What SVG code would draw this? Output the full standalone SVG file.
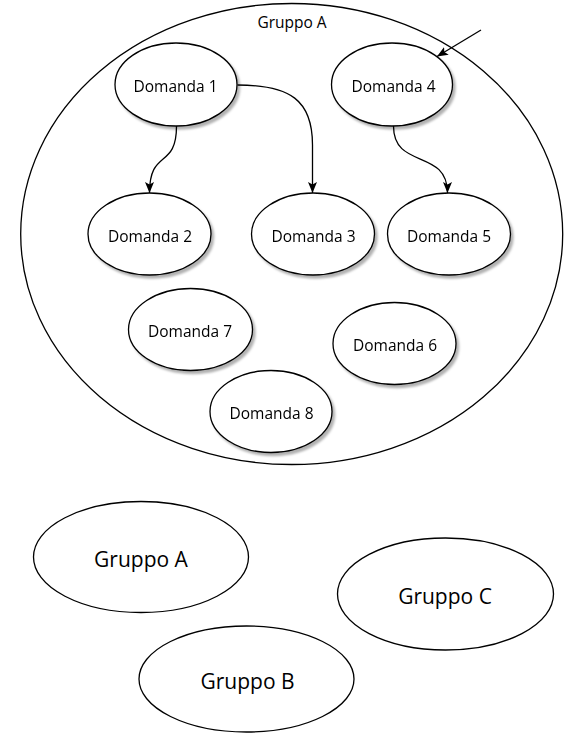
<svg xmlns="http://www.w3.org/2000/svg" width="567" height="733" viewBox="0 0 567 733">
<style>
.n{fill:#fff;stroke:#000;stroke-width:1.3;}
.sh{filter:url(#shadow);}
.t{font-family:"Open Sans","Noto Sans","Liberation Sans",sans-serif;font-size:15.5px;fill:#000;text-anchor:middle;}
.g{font-family:"Open Sans","Noto Sans","Liberation Sans",sans-serif;font-size:21px;fill:#000;text-anchor:middle;}
.c{fill:none;stroke:#000;stroke-width:1.3;marker-end:url(#arr);}
</style>
<defs>
<filter id="shadow" x="-20%" y="-20%" width="150%" height="150%">
<feDropShadow dx="2.5" dy="3" stdDeviation="1.2" flood-color="#000" flood-opacity="0.3"/>
</filter>
<marker id="arr" markerUnits="userSpaceOnUse" markerWidth="12" markerHeight="12" viewBox="0 0 12 12" refX="11" refY="6" orient="auto">
<path d="M0,1.5 L11,6 L0,10.5 L2.5,6 z" fill="#000"/>
</marker>
</defs>
<g id="gruppoA-container">
<ellipse class="n" cx="291.7" cy="234" rx="271" ry="230.5"/>
<text class="t" x="292" y="28">Gruppo A</text>
</g>
<g id="connectors">
<path class="c" d="M176.5,126 C176.5,170 149.5,148 149.5,193"/>
<path class="c" d="M237.5,85 C290,85 312.5,100 312.5,145 L312.5,193"/>
<path class="c" d="M393.5,126 C393.5,170 447.5,148 447.5,193"/>
<path class="c" d="M481,30 L437,56.5"/>
</g>
<g id="domanda1" class="sh"><ellipse class="n" cx="176" cy="84.5" rx="61" ry="41.5"/><text class="t" x="175.5" y="92">Domanda 1</text></g>
<g id="domanda4" class="sh"><ellipse class="n" cx="392" cy="84.5" rx="60.5" ry="41.5"/><text class="t" x="393.5" y="92">Domanda 4</text></g>
<g id="domanda2" class="sh"><ellipse class="n" cx="149.5" cy="234" rx="61.5" ry="41"/><text class="t" x="150" y="241.5">Domanda 2</text></g>
<g id="domanda3" class="sh"><ellipse class="n" cx="313" cy="234" rx="61.5" ry="41"/><text class="t" x="313.5" y="241.5">Domanda 3</text></g>
<g id="domanda5" class="sh"><ellipse class="n" cx="449" cy="234" rx="61.5" ry="41"/><text class="t" x="449" y="241.5">Domanda 5</text></g>
<g id="domanda7" class="sh"><ellipse class="n" cx="190.5" cy="329.5" rx="62" ry="41"/><text class="t" x="190" y="337">Domanda 7</text></g>
<g id="domanda6" class="sh"><ellipse class="n" cx="394.5" cy="343.5" rx="61.5" ry="41"/><text class="t" x="395" y="351">Domanda 6</text></g>
<g id="domanda8" class="sh"><ellipse class="n" cx="271" cy="411.5" rx="61" ry="41"/><text class="t" x="271.5" y="419">Domanda 8</text></g>
<g id="gruppoA"><ellipse class="n" cx="141" cy="557" rx="107.5" ry="55.5"/><text class="g" x="141" y="567">Gruppo A</text></g>
<g id="gruppoC"><ellipse class="n" cx="445.5" cy="594" rx="108" ry="56"/><text class="g" x="445" y="604">Gruppo C</text></g>
<g id="gruppoB"><ellipse class="n" cx="246.5" cy="679" rx="107.5" ry="53"/><text class="g" x="247.5" y="689">Gruppo B</text></g>
</svg>
